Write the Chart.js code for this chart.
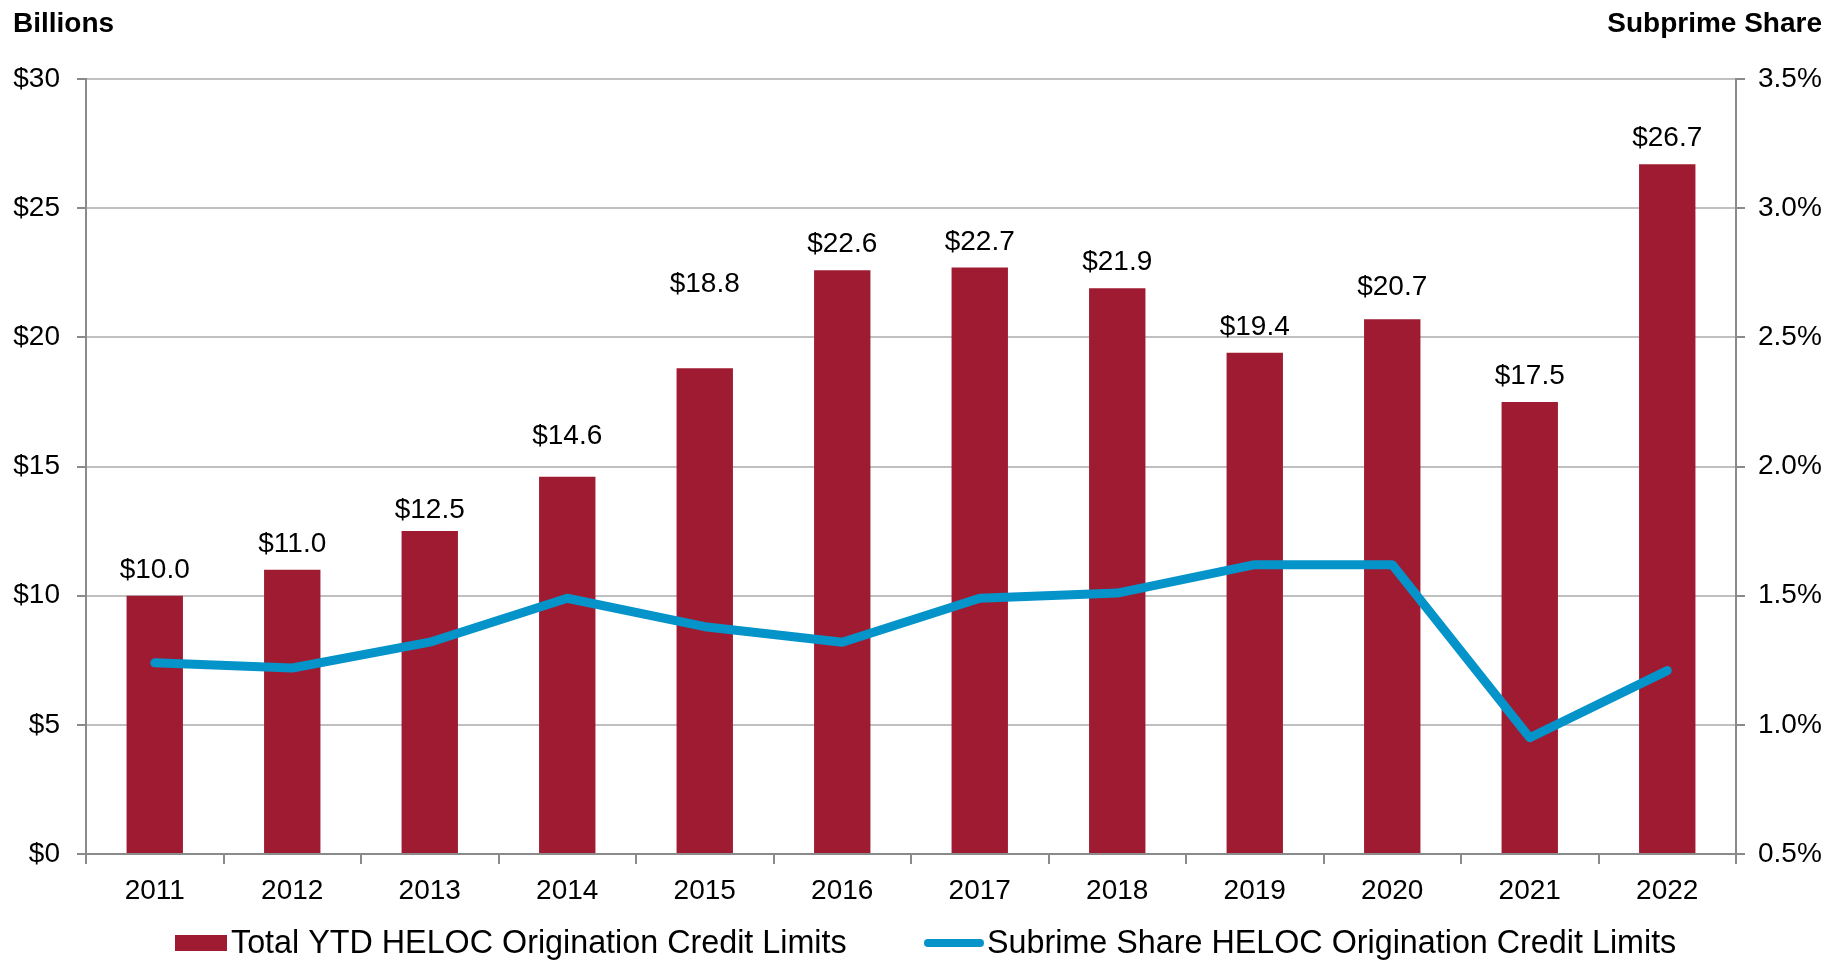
<!DOCTYPE html>
<html>
<head>
<meta charset="utf-8">
<script src="https://cdn.jsdelivr.net/npm/chart.js@4.4.1/dist/chart.umd.min.js"></script>
<style>
  html, body { margin: 0; padding: 0; background: #fff; }
  #wrap { width: 1831px; height: 961px; }
</style>
</head>
<body>
<div id="wrap"><canvas id="helocChart" width="1831" height="961"></canvas></div>
<script>
// ─── DATA ─────────────────────────────────────────────────────────────────────

const years          = ['2011', '2012', '2013', '2014', '2015', '2016', '2017', '2018', '2019', '2020', '2021', '2022'];
const creditLimits   = [10.0, 11.0, 12.5, 14.6, 18.8, 22.6, 22.7, 21.9, 19.4, 20.7, 17.5, 26.7];   // $ billions
const subprimeShare  = [1.24, 1.22, 1.32, 1.49, 1.38, 1.32, 1.49, 1.51, 1.62, 1.62, 0.95, 1.21];   // percent
const barLabel       = 'Total YTD HELOC Origination Credit Limits';
const lineLabel      = 'Subrime Share HELOC Origination Credit Limits';

// ─── STYLE ────────────────────────────────────────────────────────────────────

const FONT      = "'Liberation Sans', Arial, Helvetica, sans-serif";
const BAR_RED   = '#9E1B32';
const LINE_BLUE = '#0494C9';
const GRID      = '#C0C0C0';
const AXIS      = '#8A8A8A';

// extra lift (px) for a few value labels that sit higher than the rest
const LABEL_LIFT = { 2: -4.5, 3: 15.5, 4: 58.5, 9: 6.5 };

// ─── PLUGINS ──────────────────────────────────────────────────────────────────

const cornerTitles = {
  id: 'cornerTitles',
  afterDraw(chart) {
    const ctx = chart.ctx;
    ctx.save();
    ctx.fillStyle = '#000';
    ctx.font = `bold 28px ${FONT}`;
    ctx.textBaseline = 'alphabetic';
    ctx.textAlign = 'left';
    ctx.fillText('Billions', 13, 32);
    ctx.textAlign = 'right';
    ctx.fillText('Subprime Share', 1822, 32);
    ctx.restore();
  }
};

const barValues = {
  id: 'barValues',
  afterDatasetsDraw(chart) {
    const ctx = chart.ctx;
    const meta = chart.getDatasetMeta(1);
    ctx.save();
    ctx.fillStyle = '#000';
    ctx.font = `28px ${FONT}`;
    ctx.textAlign = 'center';
    ctx.textBaseline = 'middle';
    meta.data.forEach((bar, i) => {
      const v = chart.data.datasets[1].data[i];
      const lift = 25.5 + (LABEL_LIFT[i] || 0);
      ctx.fillText('$' + v.toFixed(1), bar.x, bar.y - lift);
    });
    ctx.restore();
  }
};

const bottomLegend = {
  id: 'bottomLegend',
  afterDraw(chart) {
    const ctx = chart.ctx;
    const y = 943;
    ctx.save();
    ctx.font = `32.3px ${FONT}`;
    ctx.textBaseline = 'middle';
    ctx.textAlign = 'left';

    // bar swatch
    ctx.fillStyle = BAR_RED;
    ctx.fillRect(175, y - 8, 52, 16);
    ctx.fillStyle = '#000';
    ctx.fillText(chart.data.datasets[1].label, 231, y + 1);

    // line swatch
    ctx.strokeStyle = LINE_BLUE;
    ctx.lineWidth = 8;
    ctx.lineCap = 'round';
    ctx.beginPath();
    ctx.moveTo(928, y);
    ctx.lineTo(980, y);
    ctx.stroke();
    ctx.fillText(chart.data.datasets[0].label, 987, y + 1);
    ctx.restore();
  }
};

// ─── CHART ────────────────────────────────────────────────────────────────────

Chart.defaults.font.family = FONT;
Chart.defaults.color = '#000';

new Chart(document.getElementById('helocChart'), {
  data: {
    labels: years,
    datasets: [
      {
        type: 'line',
        label: lineLabel,
        data: subprimeShare,
        yAxisID: 'y1',
        borderColor: LINE_BLUE,
        borderWidth: 9,
        borderCapStyle: 'round',
        borderJoinStyle: 'round',
        pointRadius: 0,
        tension: 0,
        order: 0,
      },
      {
        type: 'bar',
        label: barLabel,
        data: creditLimits,
        yAxisID: 'y',
        backgroundColor: BAR_RED,
        barPercentage: 0.41,
        categoryPercentage: 1.0,
        order: 1,
      }
    ]
  },
  options: {
    responsive: false,
    animation: false,
    devicePixelRatio: 1,
    layout: { padding: { top: 79, right: 0, bottom: 0, left: 0 } },
    plugins: {
      legend: { display: false },
      tooltip: { enabled: false },
    },
    scales: {
      x: {
        offset: true,
        grid: {
          offset: true,
          drawOnChartArea: false,
          drawTicks: true,
          tickLength: 10,
          tickColor: AXIS,
          lineWidth: 2,
        },
        border: { color: AXIS, width: 2 },
        ticks: { font: { size: 28 }, padding: 10, maxRotation: 0 },
        afterFit: s => { s.height = 107; },
      },
      y: {
        position: 'left',
        min: 0,
        max: 30,
        grid: { color: GRID, lineWidth: 2, tickLength: 9, tickColor: AXIS },
        border: { color: AXIS, width: 2 },
        ticks: {
          stepSize: 5,
          font: { size: 28 },
          padding: 17,
          callback: v => '$' + v,
        },
        afterFit: s => { s.width = 86; },
      },
      y1: {
        position: 'right',
        min: 0.5,
        max: 3.5,
        grid: { drawOnChartArea: false, tickLength: 9, tickColor: AXIS, lineWidth: 2 },
        border: { color: AXIS, width: 2 },
        ticks: {
          stepSize: 0.5,
          font: { size: 28 },
          padding: 13,
          callback: v => v.toFixed(1) + '%',
        },
        afterFit: s => { s.width = 95; },
      }
    }
  },
  plugins: [cornerTitles, barValues, bottomLegend]
});
</script>
</body>
</html>
